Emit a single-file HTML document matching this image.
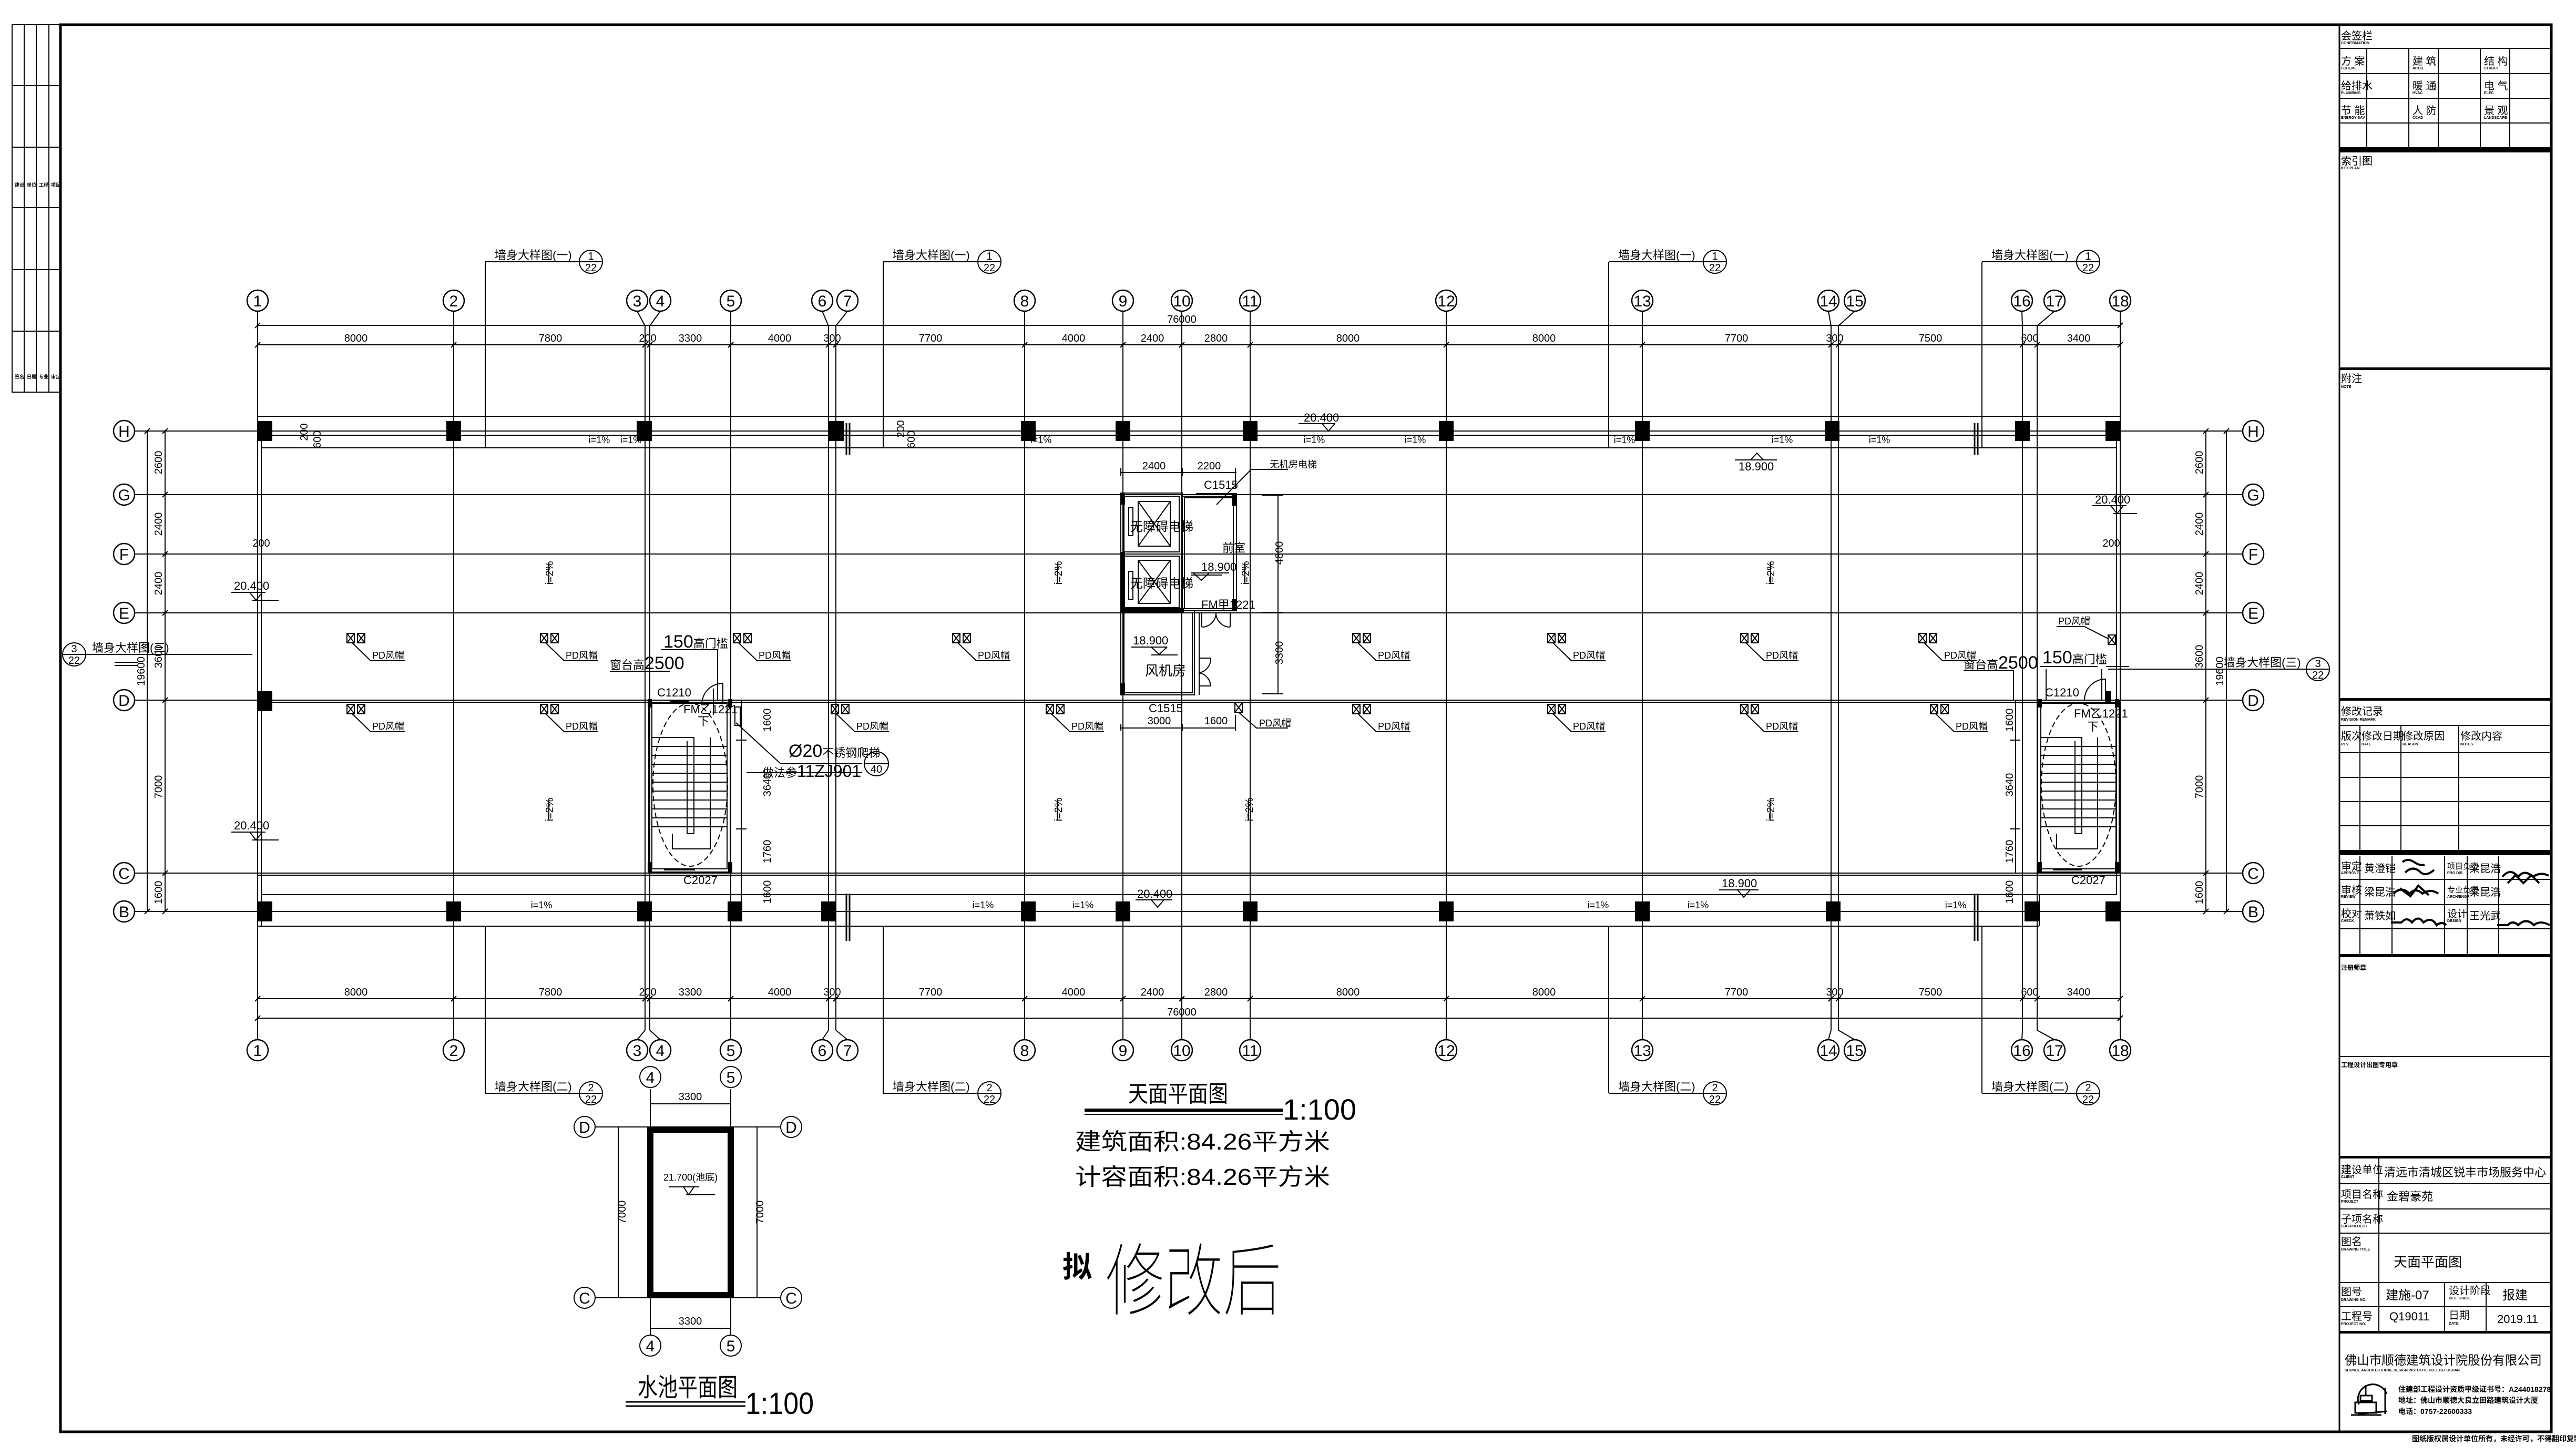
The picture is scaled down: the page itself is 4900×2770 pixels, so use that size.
<!DOCTYPE html>
<html><head><meta charset="utf-8"><style>
html,body{margin:0;padding:0;background:#fff;}
svg{display:block;}
text{font-family:"Liberation Sans","Noto Sans CJK SC",sans-serif;fill:#000;}
.s{font-family:"Liberation Sans Narrow","Liberation Sans","Noto Sans CJK SC",sans-serif;}
</style></head><body>
<svg width="4900" height="2770" viewBox="0 0 4900 2770" xmlns="http://www.w3.org/2000/svg">
<rect width="4900" height="2770" fill="#fff"/>
<!-- left strip -->
<g stroke="#000" stroke-width="2" fill="none">
<rect x="23" y="47" width="92" height="699"/>
<line x1="46" y1="47" x2="46" y2="746"/><line x1="69" y1="47" x2="69" y2="746"/><line x1="93" y1="47" x2="93" y2="746"/>
<line x1="23" y1="163" x2="115" y2="163"/><line x1="23" y1="280" x2="115" y2="280"/><line x1="23" y1="395" x2="115" y2="395"/><line x1="23" y1="513" x2="115" y2="513"/><line x1="23" y1="630" x2="115" y2="630"/>
</g>
<g font-size="9" font-weight="bold">
<text x="28" y="355">建设</text><text x="51" y="355">单位</text><text x="74" y="355">工程</text><text x="97" y="355">项目</text>
<text x="28" y="720">签名</text><text x="51" y="720">日期</text><text x="74" y="720">专业</text><text x="97" y="720">审定</text>
</g>
<!-- frame -->
<rect x="115" y="47" width="4738" height="2677" fill="none" stroke="#000" stroke-width="5"/>
<line x1="4450" y1="47" x2="4450" y2="2724" stroke="#000" stroke-width="3"/>

<!-- ===== PLAN ===== -->
<g stroke="#000" stroke-width="2" fill="none">
<!-- axis vertical lines -->
<path d="M490 592V1978 M863 592V1978 M1227 620V1960 M1236 620V1960 M1390 592V1978 M1576 620V1960 M1590 620V1960 M1949 592V1978 M2136 592V1978 M2248 592V1978 M2378 592V1978 M2751 592V1978 M3124 592V1978 M3483 620V1960 M3497 620V1960 M3847 620V1960 M3875 620V1960 M4033 592V1978"/>
<path d="M1212 592L1227 620 M1256 592L1236 620 M1564 592L1576 620 M1612 592L1590 620 M3478 592L3483 620 M3528 592L3497 620 M3846 592L3847 620 M3908 592L3875 620"/>
<path d="M1212 1978L1227 1960 M1256 1978L1236 1960 M1564 1978L1576 1960 M1612 1978L1590 1960 M3478 1978L3483 1960 M3528 1978L3497 1960 M3846 1978L3847 1960 M3908 1978L3875 1960"/>
<!-- row lines -->
<path d="M256 820H4266 M256 941H4266 M256 1054H4266 M256 1166H4266 M256 1332H4266 M256 1661H4266 M256 1734H4266"/>
<!-- parapets -->
<path d="M490 792H4033 M490 828H4033 M497 852H4026 M490 1336H4033 M490 1665H4033 M497 1702H4026 M490 1762H3879"/>
<path d="M497 828V1762 M4026 828V1702 M3879 1702V1762"/>
<path d="M1610 805V865 M1616 805V865 M3756 805V865 M3762 805V865 M1610 1700V1790 M1616 1700V1790 M3756 1700V1790 M3762 1700V1790" stroke-width="3"/>
<!-- top dims -->
<path d="M490 619H4033 M490 656H4033"/>
<path d="M485 624l10-10 M485 661l10-10 M858 661l10-10 M1222 661l10-10 M1231 661l10-10 M1385 661l10-10 M1571 661l10-10 M1585 661l10-10 M1944 661l10-10 M2131 661l10-10 M2243 661l10-10 M2373 661l10-10 M2746 661l10-10 M3119 661l10-10 M3478 661l10-10 M3492 661l10-10 M3842 661l10-10 M3870 661l10-10 M4028 661l10-10 M4028 624l10-10"/>
<!-- bottom dims -->
<path d="M490 1900H4033 M490 1937H4033"/>
<path d="M485 1905l10-10 M858 1905l10-10 M1222 1905l10-10 M1231 1905l10-10 M1385 1905l10-10 M1571 1905l10-10 M1585 1905l10-10 M1944 1905l10-10 M2131 1905l10-10 M2243 1905l10-10 M2373 1905l10-10 M2746 1905l10-10 M3119 1905l10-10 M3478 1905l10-10 M3492 1905l10-10 M3842 1905l10-10 M3870 1905l10-10 M4028 1905l10-10 M485 1942l10-10 M4028 1942l10-10"/>
<!-- left / right vertical dims -->
<path d="M314 820V1734 M280 820V1734 M4196 820V1734 M4235 820V1734"/>
<path d="M309 825l10-10 M309 946l10-10 M309 1059l10-10 M309 1171l10-10 M309 1337l10-10 M309 1666l10-10 M309 1739l10-10 M275 825l10-10 M275 1739l10-10 M4191 825l10-10 M4191 946l10-10 M4191 1059l10-10 M4191 1171l10-10 M4191 1337l10-10 M4191 1666l10-10 M4191 1739l10-10 M4230 825l10-10 M4230 1739l10-10"/>
<!-- axis circles -->
<g stroke-width="2.5">
<circle cx="490" cy="572" r="20"/><circle cx="863" cy="572" r="20"/><circle cx="1212" cy="572" r="20"/><circle cx="1256" cy="572" r="20"/><circle cx="1390" cy="572" r="20"/><circle cx="1564" cy="572" r="20"/><circle cx="1612" cy="572" r="20"/><circle cx="1949" cy="572" r="20"/><circle cx="2136" cy="572" r="20"/><circle cx="2248" cy="572" r="20"/><circle cx="2378" cy="572" r="20"/><circle cx="2751" cy="572" r="20"/><circle cx="3124" cy="572" r="20"/><circle cx="3478" cy="572" r="20"/><circle cx="3528" cy="572" r="20"/><circle cx="3846" cy="572" r="20"/><circle cx="3908" cy="572" r="20"/><circle cx="4033" cy="572" r="20"/>
<circle cx="490" cy="1998" r="20"/><circle cx="863" cy="1998" r="20"/><circle cx="1212" cy="1998" r="20"/><circle cx="1256" cy="1998" r="20"/><circle cx="1390" cy="1998" r="20"/><circle cx="1564" cy="1998" r="20"/><circle cx="1612" cy="1998" r="20"/><circle cx="1949" cy="1998" r="20"/><circle cx="2136" cy="1998" r="20"/><circle cx="2248" cy="1998" r="20"/><circle cx="2378" cy="1998" r="20"/><circle cx="2751" cy="1998" r="20"/><circle cx="3124" cy="1998" r="20"/><circle cx="3478" cy="1998" r="20"/><circle cx="3528" cy="1998" r="20"/><circle cx="3846" cy="1998" r="20"/><circle cx="3908" cy="1998" r="20"/><circle cx="4033" cy="1998" r="20"/>
<circle cx="236" cy="820" r="20"/><circle cx="236" cy="941" r="20"/><circle cx="236" cy="1054" r="20"/><circle cx="236" cy="1166" r="20"/><circle cx="236" cy="1332" r="20"/><circle cx="236" cy="1661" r="20"/><circle cx="236" cy="1734" r="20"/>
<circle cx="4286" cy="820" r="20"/><circle cx="4286" cy="941" r="20"/><circle cx="4286" cy="1054" r="20"/><circle cx="4286" cy="1166" r="20"/><circle cx="4286" cy="1332" r="20"/><circle cx="4286" cy="1661" r="20"/><circle cx="4286" cy="1734" r="20"/>
</g>
<!-- 墙身大样图 leaders -->
<path d="M923 498H1102 M923 498V852 M1680 498H1860 M1680 498V852 M3060 498H3240 M3060 498V852 M3770 498H3950 M3770 498V852"/>
<path d="M923 2080H1102 M923 2080V1762 M1680 2080H1860 M1680 2080V1762 M3060 2080H3240 M3060 2080V1762 M3770 2080H3950 M3770 2080V1762"/>
<circle cx="1124" cy="498" r="22"/><circle cx="1882" cy="498" r="22"/><circle cx="3262" cy="498" r="22"/><circle cx="3972" cy="498" r="22"/>
<circle cx="1124" cy="2080" r="22"/><circle cx="1882" cy="2080" r="22"/><circle cx="3262" cy="2080" r="22"/><circle cx="3972" cy="2080" r="22"/>
<path d="M1102 498h44 M1860 498h44 M3240 498h44 M3950 498h44 M1102 2080h44 M1860 2080h44 M3240 2080h44 M3950 2080h44"/>
<circle cx="141" cy="1245" r="22"/><path d="M119 1245h44 M163 1245H330 M220 1245H480"/>
<circle cx="4409" cy="1273" r="22"/><path d="M4387 1273h44 M4010 1273H4387"/>
<path d="M218 1260H262 M218 1266H262 M4006 1268H4050" stroke-width="2"/>
</g>
<!-- columns -->
<g fill="#000">
<rect x="490" y="801" width="28" height="38"/><rect x="849" y="801" width="28" height="38"/><rect x="1211" y="801" width="29" height="38"/><rect x="1577" y="801" width="28" height="38"/><rect x="1942" y="801" width="28" height="38"/><rect x="2122" y="801" width="28" height="38"/><rect x="2364" y="801" width="28" height="38"/><rect x="2737" y="801" width="28" height="38"/><rect x="3110" y="801" width="28" height="38"/><rect x="3471" y="801" width="28" height="38"/><rect x="3833" y="801" width="28" height="38"/><rect x="4005" y="801" width="28" height="38"/>
<rect x="490" y="1315" width="28" height="38"/><rect x="4005" y="1315" width="10" height="20"/>
<rect x="490" y="1715" width="28" height="38"/><rect x="849" y="1715" width="28" height="38"/><rect x="1212" y="1715" width="28" height="38"/><rect x="1384" y="1715" width="28" height="38"/><rect x="1562" y="1715" width="28" height="38"/><rect x="1942" y="1715" width="28" height="38"/><rect x="2122" y="1715" width="28" height="38"/><rect x="2364" y="1715" width="28" height="38"/><rect x="2737" y="1715" width="28" height="38"/><rect x="3110" y="1715" width="28" height="38"/><rect x="3473" y="1715" width="28" height="38"/><rect x="3851" y="1715" width="28" height="38"/><rect x="4005" y="1715" width="28" height="38"/>
<rect x="1232" y="1330" width="8" height="16"/><rect x="1385" y="1330" width="8" height="16"/><rect x="1232" y="1640" width="8" height="20"/><rect x="1385" y="1640" width="8" height="20"/>
<rect x="3876" y="1330" width="8" height="16"/><rect x="4023" y="1330" width="8" height="16"/><rect x="3876" y="1640" width="8" height="20"/><rect x="4023" y="1640" width="8" height="20"/>
</g>
<!-- stairs -->
<g stroke="#000" stroke-width="2" fill="none">
<rect x="1234" y="1332" width="155" height="327"/><rect x="1240" y="1338" width="143" height="315"/>
<ellipse cx="1313" cy="1493" rx="71" ry="155" stroke-dasharray="10,6"/>
<path d="M1241 1403H1320V1586 M1307 1410V1586H1320 M1279 1586V1615H1351V1403"/>
<path d="M1241 1420H1384 M1241 1437H1384 M1241 1454H1384 M1241 1471H1384 M1241 1488H1384 M1241 1505H1384 M1241 1522H1384 M1241 1539H1384 M1241 1556H1384 M1241 1573H1384"/>
<path d="M1263 1660H1322 M1263 1655H1322 M1275 1334H1310 M1357 1310V1360"/>
<path d="M1335 1340 A40 40 0 0 1 1375 1300 V1340"/><rect x="1398" y="1345" width="10" height="35"/>
<path d="M1400 1375 L1485 1453 H1640"/>
<circle cx="1667" cy="1453" r="23"/><path d="M1644 1453h46"/>
<path d="M1410 1332V1734 M1400 1332h20 M1400 1408h20 M1400 1577h20 M1400 1661h20 M1400 1734h20"/>
<rect x="3876" y="1332" width="155" height="327"/><rect x="3882" y="1338" width="143" height="315"/>
<ellipse cx="3954" cy="1493" rx="71" ry="155" stroke-dasharray="10,6"/>
<path d="M3882 1403H3960V1586 M3947 1410V1586H3960 M3912 1586V1615H3990V1403"/>
<path d="M3882 1420H4025 M3882 1437H4025 M3882 1454H4025 M3882 1471H4025 M3882 1488H4025 M3882 1505H4025 M3882 1522H4025 M3882 1539H4025 M3882 1556H4025 M3882 1573H4025"/>
<path d="M3905 1660H3960 M3905 1655H3960"/>
<path d="M3965 1332 A40 40 0 0 1 4005 1292 V1332 M3892 1273V1332 M3998 1273V1332"/>
<path d="M3834 1332V1661 M3823 1332h20 M3823 1408h20 M3823 1577h20 M3823 1661h20"/>
<!-- core -->
<rect x="2132" y="938" width="117" height="224"/>
<rect x="2138" y="944" width="105" height="106"/><rect x="2138" y="1058" width="105" height="98"/>
<rect x="2165" y="954" width="61" height="85"/><path d="M2165 954L2226 1039 M2226 954L2165 1039"/>
<rect x="2165" y="1066" width="61" height="82"/><path d="M2165 1066L2226 1148 M2226 1066L2165 1148"/>
<rect x="2147" y="966" width="8" height="53"/><rect x="2147" y="1087" width="8" height="53"/>
<rect x="2249" y="944" width="103" height="218"/><rect x="2253" y="947" width="93" height="211"/>
<rect x="2132" y="1162" width="140" height="160"/><rect x="2138" y="1166" width="130" height="152"/>
<path d="M2272 1162V1322 M2281 1166V1322 M2176 1322H2240 M2176 1318H2240"/>
<path d="M2286 1166V1193 M2340 1166V1193 M2286 1193 A27 27 0 0 0 2313 1166 M2340 1193 A27 27 0 0 1 2313 1166"/>
<path d="M2281 1252H2303 A27 27 0 0 1 2281 1280 M2281 1280 A27 27 0 0 1 2303 1305 H2281"/>
<path d="M2132 899H2352 M2132 890V905 M2249 890V905 M2350 890V930 M2350 1385V1360 M2132 1385H2350 M2249 1378V1390 M2350 1378V1390 M2132 1378V1390"/>
<path d="M2431 942V1320 M2400 942h40 M2400 1165h40 M2400 1320h40"/>
<path d="M2314 960 L2380 893 H2450"/>
</g>
<g fill="#000"><rect x="2132" y="938" width="8" height="22"/><rect x="2132" y="1050" width="8" height="112"/><rect x="2132" y="1156" width="120" height="10"/><rect x="2132" y="1300" width="8" height="22"/><rect x="2344" y="938" width="9" height="25"/><rect x="2344" y="1140" width="9" height="22"/><rect x="2275" y="938" width="70" height="4"/></g>

<!-- PD symbols -->
<g stroke="#000" stroke-width="2" fill="none">
<defs><g id="pd"><rect x="0" y="0" width="14" height="18"/><path d="M0 0L14 18M14 0L0 18"/><rect x="20" y="0" width="14" height="18"/><path d="M20 0L34 18M34 0L20 18"/><path d="M10 18L45 52H110"/></g></defs>
<use href="#pd" x="660" y="1205"/><use href="#pd" x="1028" y="1205"/><use href="#pd" x="1395" y="1205"/><use href="#pd" x="1812" y="1205"/><use href="#pd" x="2573" y="1205"/><use href="#pd" x="2944" y="1205"/><use href="#pd" x="3311" y="1205"/><use href="#pd" x="3650" y="1205"/>
<use href="#pd" x="660" y="1340"/><use href="#pd" x="1028" y="1340"/><use href="#pd" x="1581" y="1340"/><use href="#pd" x="1990" y="1340"/><use href="#pd" x="2573" y="1340"/><use href="#pd" x="2944" y="1340"/><use href="#pd" x="3311" y="1340"/><use href="#pd" x="3672" y="1340"/>
<rect x="2349" y="1337" width="14" height="18"/><path d="M2349 1337l14 18M2363 1337l-14 18M2356 1355L2390 1385H2450"/>
<rect x="4010" y="1208" width="14" height="18"/><path d="M4010 1208l14 18M4024 1208l-14 18M4010 1215L3965 1192H3912"/>
<!-- elevation marks -->
<path d="M440 1127H505 M475 1127L487 1142L499 1127 M480 1142H530"/>
<path d="M2470 806H2540 M2515 806L2527 820L2539 806"/>
<path d="M3980 962H4045 M4015 962L4027 977L4039 962 M4020 977H4065"/>
<path d="M3330 875L3342 862L3354 875 M3300 875H3380"/>
<path d="M3270 1693H3345 M3305 1693L3317 1707L3329 1693"/>
<path d="M2160 1712H2230 M2190 1712L2202 1726L2214 1712"/>
<path d="M440 1583H505 M475 1583L487 1598L499 1583 M480 1598H530"/>
<path d="M2265 1090H2338 M2270 1090L2285 1104L2300 1090 M2265 1094H2325" />
<path d="M2152 1231H2220 M2190 1231L2205 1245L2220 1231 M2190 1246H2240"/>
<!-- slope arrows -->
<path d="M1044 1070V1110 M2012 1070V1110 M3368 1070V1110 M2368 1070V1110 M1044 1520V1560 M2012 1520V1560 M3367 1520V1560 M2375 1520V1560"/>
<!-- label underlines -->
<path d="M1160 1277H1275 M1257 1236H1365V1332 M3735 1276H3830V1332 M3880 1268H3990 M1420 1470H1640"/>
<!-- pool -->
<rect x="1237" y="2149" width="153" height="315" stroke-width="12"/>
<path d="M1132 2144H1237 M1390 2144H1485 M1132 2469H1237 M1390 2469H1485 M1237 2072V2149 M1390 2072V2149 M1237 2469V2540 M1390 2469V2540 M1237 2100H1390 M1237 2527H1390 M1176 2144V2469 M1440 2144V2469"/>
<circle cx="1237" cy="2049" r="20"/><circle cx="1390" cy="2049" r="20"/><circle cx="1237" cy="2560" r="20"/><circle cx="1390" cy="2560" r="20"/>
<circle cx="1112" cy="2144" r="20"/><circle cx="1505" cy="2144" r="20"/><circle cx="1112" cy="2469" r="20"/><circle cx="1505" cy="2469" r="20"/>
<path d="M1272 2258H1330 M1300 2258L1310 2273L1320 2258 M1305 2273H1360"/>
<path d="M1190 2667H1418 M1190 2675H1418" stroke-width="3"/>
<path d="M2063 2112H2440" stroke-width="6"/><path d="M2063 2120H2440"/>
</g>

<!-- plan text -->
<g class="s" font-size="30" text-anchor="middle">
<text x="490" y="583">1</text><text x="863" y="583">2</text><text x="1212" y="583">3</text><text x="1256" y="583">4</text><text x="1390" y="583">5</text><text x="1564" y="583">6</text><text x="1612" y="583">7</text><text x="1949" y="583">8</text><text x="2136" y="583">9</text><text x="2248" y="583">10</text><text x="2378" y="583">11</text><text x="2751" y="583">12</text><text x="3124" y="583">13</text><text x="3478" y="583">14</text><text x="3528" y="583">15</text><text x="3846" y="583">16</text><text x="3908" y="583">17</text><text x="4033" y="583">18</text>
<text x="490" y="2009">1</text><text x="863" y="2009">2</text><text x="1212" y="2009">3</text><text x="1256" y="2009">4</text><text x="1390" y="2009">5</text><text x="1564" y="2009">6</text><text x="1612" y="2009">7</text><text x="1949" y="2009">8</text><text x="2136" y="2009">9</text><text x="2248" y="2009">10</text><text x="2378" y="2009">11</text><text x="2751" y="2009">12</text><text x="3124" y="2009">13</text><text x="3478" y="2009">14</text><text x="3528" y="2009">15</text><text x="3846" y="2009">16</text><text x="3908" y="2009">17</text><text x="4033" y="2009">18</text>
<text x="236" y="831">H</text><text x="236" y="952">G</text><text x="236" y="1065">F</text><text x="236" y="1177">E</text><text x="236" y="1343">D</text><text x="236" y="1672">C</text><text x="236" y="1745">B</text>
<text x="4286" y="831">H</text><text x="4286" y="952">G</text><text x="4286" y="1065">F</text><text x="4286" y="1177">E</text><text x="4286" y="1343">D</text><text x="4286" y="1672">C</text><text x="4286" y="1745">B</text>
<text x="1237" y="2060">4</text><text x="1390" y="2060">5</text><text x="1237" y="2571">4</text><text x="1390" y="2571">5</text>
<text x="1112" y="2155">D</text><text x="1505" y="2155">D</text><text x="1112" y="2480">C</text><text x="1505" y="2480">C</text>
</g>
<g class="s" font-size="20" text-anchor="middle">
<text x="2248" y="614">76000</text><text x="2248" y="1932">76000</text>
<g id="dt"><text x="677" y="650">8000</text><text x="1047" y="650">7800</text><text x="1232" y="650">200</text><text x="1313" y="650">3300</text><text x="1483" y="650">4000</text><text x="1583" y="650">300</text><text x="1770" y="650">7700</text><text x="2042" y="650">4000</text><text x="2192" y="650">2400</text><text x="2313" y="650">2800</text><text x="2564" y="650">8000</text><text x="2937" y="650">8000</text><text x="3303" y="650">7700</text><text x="3490" y="650">300</text><text x="3672" y="650">7500</text><text x="3861" y="650">600</text><text x="3954" y="650">3400</text></g>
<text x="677" y="1894">8000</text><text x="1047" y="1894">7800</text><text x="1232" y="1894">200</text><text x="1313" y="1894">3300</text><text x="1483" y="1894">4000</text><text x="1583" y="1894">300</text><text x="1770" y="1894">7700</text><text x="2042" y="1894">4000</text><text x="2192" y="1894">2400</text><text x="2313" y="1894">2800</text><text x="2564" y="1894">8000</text><text x="2937" y="1894">8000</text><text x="3303" y="1894">7700</text><text x="3490" y="1894">300</text><text x="3672" y="1894">7500</text><text x="3861" y="1894">600</text><text x="3954" y="1894">3400</text>
<g transform="rotate(-90)">
<text x="-880" y="308">2600</text><text x="-997" y="308">2400</text><text x="-1110" y="308">2400</text><text x="-1249" y="308">3600</text><text x="-1497" y="308">7000</text><text x="-1698" y="308">1600</text><text x="-1277" y="275">19600</text>
<text x="-880" y="4190">2600</text><text x="-997" y="4190">2400</text><text x="-1110" y="4190">2400</text><text x="-1249" y="4190">3600</text><text x="-1497" y="4190">7000</text><text x="-1698" y="4190">1600</text><text x="-1277" y="4229">19600</text>
<text x="-1370" y="1466">1600</text><text x="-1493" y="1466">3640</text><text x="-1620" y="1466">1760</text><text x="-1697" y="1466">1600</text>
<text x="-1370" y="3829">1600</text><text x="-1493" y="3829">3640</text><text x="-1620" y="3829">1760</text><text x="-1697" y="3829">1600</text>
<text x="-1052" y="2440">4800</text><text x="-1242" y="2440">3300</text>
<text x="-2306" y="1190">7000</text><text x="-2306" y="1452">7000</text>
<text x="-1090" y="1052">i=2%</text><text x="-1090" y="2020">i=2%</text><text x="-1090" y="2376">i=2%</text><text x="-1090" y="3375">i=2%</text>
<text x="-1540" y="1052">i=2%</text><text x="-1540" y="2020">i=2%</text><text x="-1540" y="2383">i=2%</text><text x="-1540" y="3375">i=2%</text>
<text x="-822" y="585">200</text><text x="-836" y="610">600</text><text x="-816" y="1720">200</text><text x="-836" y="1740">600</text>
</g>
<text x="2195" y="893">2400</text><text x="2300" y="893">2200</text><text x="2205" y="1378">3000</text><text x="2313" y="1378">1600</text>
<text x="1313" y="2093">3300</text><text x="1313" y="2520">3300</text>
<text x="497" y="1040">200</text><text x="4016" y="1040">200</text>
</g>
<g class="s" font-size="18" text-anchor="middle">
<text x="1140" y="843">i=1%</text><text x="1200" y="843">i=1%</text><text x="1980" y="843">i=1%</text><text x="2500" y="843">i=1%</text><text x="3390" y="843">i=1%</text><text x="3575" y="843">i=1%</text><text x="2692" y="843">i=1%</text><text x="3090" y="843">i=1%</text>
<text x="1030" y="1728">i=1%</text><text x="1870" y="1728">i=1%</text><text x="2060" y="1728">i=1%</text><text x="3040" y="1728">i=1%</text><text x="3230" y="1728">i=1%</text><text x="3720" y="1728">i=1%</text>
</g>
<g class="s" font-size="22">
<text x="445" y="1122">20.400</text><text x="2480" y="802">20.400</text><text x="3985" y="958">20.400</text><text x="3307" y="895">18.900</text><text x="3275" y="1688">18.900</text><text x="2163" y="1708">20.400</text><text x="445" y="1578">20.400</text>
<text x="2285" y="1086">18.900</text><text x="2155" y="1226">18.900</text>
<text x="1250" y="1325">C1210</text><text x="1300" y="1357">FM乙1221</text><text x="1327" y="1380">下</text><text x="1300" y="1682">C2027</text>
<text x="3890" y="1325">C1210</text><text x="3945" y="1365">FM乙1221</text><text x="3970" y="1390">下</text><text x="3940" y="1682">C2027</text>
<text x="2290" y="930">C1515</text><text x="2185" y="1355">C1515</text><text x="2285" y="1158">FM甲1221</text>
<text x="2415" y="890" font-size="18">无机房电梯</text>
<text x="1262" y="2246" font-size="18">21.700(池底)</text>
</g>
<g class="s" font-size="18">
<text x="708" y="1253">PD风帽</text><text x="1076" y="1253">PD风帽</text><text x="1443" y="1253">PD风帽</text><text x="1860" y="1253">PD风帽</text><text x="2621" y="1253">PD风帽</text><text x="2992" y="1253">PD风帽</text><text x="3359" y="1253">PD风帽</text><text x="3698" y="1253">PD风帽</text><text x="3915" y="1188">PD风帽</text>
<text x="708" y="1388">PD风帽</text><text x="1076" y="1388">PD风帽</text><text x="1629" y="1388">PD风帽</text><text x="2038" y="1388">PD风帽</text><text x="2621" y="1388">PD风帽</text><text x="2992" y="1388">PD风帽</text><text x="3359" y="1388">PD风帽</text><text x="3720" y="1388">PD风帽</text><text x="2395" y="1382">PD风帽</text>
</g>
<g font-size="22">
<text x="2325" y="1050">前室</text><text x="2150" y="1010" font-size="24">无障碍电梯</text><text x="2150" y="1118" font-size="24">无障碍电梯</text><text x="2178" y="1285" font-size="26">风机房</text>
<text x="941" y="493">墙身大样图(一)</text><text x="1698" y="493">墙身大样图(一)</text><text x="3078" y="493">墙身大样图(一)</text><text x="3788" y="493">墙身大样图(一)</text>
<text x="941" y="2075">墙身大样图(二)</text><text x="1698" y="2075">墙身大样图(二)</text><text x="3078" y="2075">墙身大样图(二)</text><text x="3788" y="2075">墙身大样图(二)</text>
<text x="175" y="1240">墙身大样图(三)</text><text x="4230" y="1268">墙身大样图(三)</text>
<text x="1160" y="1273">窗台高<tspan font-size="34">2500</tspan></text><text x="3735" y="1272">窗台高<tspan font-size="34">2500</tspan></text>
<text x="1262" y="1232"><tspan font-size="34">150</tspan>高门槛</text><text x="3885" y="1262"><tspan font-size="34">150</tspan>高门槛</text>
<text x="1500" y="1440"><tspan font-size="34">Ø20</tspan>不锈钢爬梯</text><text x="1450" y="1478">做法参<tspan font-size="32">11ZJ901</tspan></text>
</g>
<g font-size="20" text-anchor="middle">
<text x="1124" y="494">1</text><text x="1124" y="516">22</text><text x="1882" y="494">1</text><text x="1882" y="516">22</text><text x="3262" y="494">1</text><text x="3262" y="516">22</text><text x="3972" y="494">1</text><text x="3972" y="516">22</text>
<text x="1124" y="2076">2</text><text x="1124" y="2098">22</text><text x="1882" y="2076">2</text><text x="1882" y="2098">22</text><text x="3262" y="2076">2</text><text x="3262" y="2098">22</text><text x="3972" y="2076">2</text><text x="3972" y="2098">22</text>
<text x="141" y="1241">3</text><text x="141" y="1263">22</text><text x="4409" y="1269">3</text><text x="4409" y="1291">22</text>
<text x="1667" y="1470">40</text>
</g>
<!-- titles -->
<g>
<text x="2146" y="2096" font-size="44" textLength="190" lengthAdjust="spacingAndGlyphs">天面平面图</text>
<text x="2440" y="2130" font-size="56" textLength="140" lengthAdjust="spacingAndGlyphs">1:100</text>
<text x="2045" y="2187" font-size="44" textLength="485" lengthAdjust="spacingAndGlyphs">建筑面积:84.26平方米</text>
<text x="2045" y="2254" font-size="44" textLength="485" lengthAdjust="spacingAndGlyphs">计容面积:84.26平方米</text>
<text x="2021" y="2430" font-size="56" font-weight="bold">拟</text>
<text x="2103" y="2490" font-size="150" textLength="335" lengthAdjust="spacingAndGlyphs" style="font-weight:100">修改后</text>
<text x="1213" y="2656" font-size="48" textLength="190" lengthAdjust="spacingAndGlyphs">水池平面图</text>
<text x="1418" y="2690" font-size="58" textLength="130" lengthAdjust="spacingAndGlyphs">1:100</text>
</g>

<!-- ===== TITLE BLOCK ===== -->
<g stroke="#000" stroke-width="2" fill="none">
<path d="M4450 92H4853 M4450 140H4853 M4450 187H4853 M4450 234H4853"/>
<path d="M4502 92V280 M4582 92V280 M4638 92V280 M4718 92V280 M4774 92V280"/>
<path d="M4450 1380H4853 M4450 1432H4853 M4450 1479H4853 M4450 1525H4853 M4450 1571H4853"/>
<path d="M4489 1380V1618 M4567 1380V1618 M4677 1380V1618"/>
<path d="M4450 1673H4853 M4450 1721H4853 M4450 1767H4853"/>
<path d="M4489 1629V1815 M4550 1629V1815 M4650 1629V1815 M4693 1629V1815 M4753 1629V1815"/>
<path d="M4450 2010H4853"/>
<path d="M4450 2252H4853 M4450 2300H4853 M4450 2346H4853 M4450 2440H4853 M4450 2486H4853 M4525 2204V2534 M4650 2440V2534 M4729 2440V2534"/>
</g>
<g fill="#000">
<rect x="4450" y="280" width="403" height="10"/><rect x="4450" y="699" width="403" height="5"/><rect x="4450" y="1328" width="403" height="5"/><rect x="4450" y="1617" width="403" height="10"/><rect x="4450" y="1815" width="403" height="6"/><rect x="4450" y="2199" width="403" height="5"/><rect x="4450" y="2532" width="403" height="5"/>
</g>
<g font-size="20">
<text x="4453" y="75">会签栏</text>
<text x="4453" y="123">方 案</text><text x="4589" y="123">建 筑</text><text x="4725" y="123">结 构</text>
<text x="4453" y="170">给排水</text><text x="4589" y="170">暖 通</text><text x="4725" y="170">电 气</text>
<text x="4453" y="217">节 能</text><text x="4589" y="217">人 防</text><text x="4725" y="217">景 观</text>
<text x="4453" y="313">索引图</text><text x="4453" y="727">附注</text><text x="4453" y="1360">修改记录</text>
<text x="4453" y="1407">版次</text><text x="4492" y="1407">修改日期</text><text x="4570" y="1407">修改原因</text><text x="4680" y="1407">修改内容</text>
<text x="4453" y="1655">审定</text><text x="4453" y="1700">审核</text><text x="4453" y="1745">校对</text>
<text x="4497" y="1659">黄澄铠</text><text x="4497" y="1704">梁昆浩</text><text x="4497" y="1749">萧铁如</text>
<text x="4697" y="1659">梁昆浩</text><text x="4697" y="1704">梁昆浩</text><text x="4697" y="1749">王光武</text>
<text x="4453" y="2232">建设单位</text><text x="4453" y="2279">项目名称</text><text x="4453" y="2326">子项名称</text><text x="4453" y="2369">图名</text><text x="4453" y="2464">图号</text><text x="4453" y="2511">工程号</text>
<text x="4658" y="2462">设计阶段</text><text x="4658" y="2509">日期</text>
</g>
<g font-size="15"><text x="4655" y="1653">项目负责</text><text x="4655" y="1698">专业负责</text><text x="4655" y="1745" font-size="19">设计</text></g>
<g font-size="7" font-weight="bold">
<text x="4453" y="84">CONFIRMATION</text><text x="4453" y="132">SCHEME</text><text x="4589" y="132">ARCH</text><text x="4725" y="132">STRUCT</text>
<text x="4453" y="179">PLUMBING</text><text x="4589" y="179">HVAC</text><text x="4725" y="179">ELEC</text>
<text x="4453" y="226">ENERGY-SAV</text><text x="4589" y="226">CCAD</text><text x="4725" y="226">LANDSCAPE</text>
<text x="4453" y="322">KEY PLAN</text><text x="4453" y="738">NOTE</text><text x="4453" y="1371">REVISION REMARK</text>
<text x="4453" y="1418">REV.</text><text x="4492" y="1418">DATE</text><text x="4570" y="1418">REASON</text><text x="4680" y="1418">NOTES</text>
<text x="4453" y="1663">APPROVE</text><text x="4453" y="1708">REVIEW</text><text x="4453" y="1754">CHECK</text><text x="4655" y="1663">PRO DIR</text><text x="4655" y="1708">ARCH/ENGR</text><text x="4655" y="1754">DESIGN</text>
<text x="4453" y="2241">CLIENT</text><text x="4453" y="2288">PROJECT</text><text x="4453" y="2335">SUB-PROJECT</text><text x="4453" y="2379">DRAWING TITLE</text><text x="4453" y="2475">DRAWING NO.</text><text x="4453" y="2521">PROJECT NO.</text><text x="4658" y="2472">DES. STAGE</text><text x="4658" y="2520">DATE</text>
<text x="4460" y="2609">SHUNDE ARCHITECTURAL DESIGN INSTITUTE CO.,LTD.FOSHAN</text>
</g>
<g font-size="12" font-weight="bold"><text x="4453" y="1845">注册师章</text><text x="4453" y="2030">工程设计出图专用章</text></g>
<g font-size="22">
<text x="4535" y="2238">清远市清城区锐丰市场服务中心</text>
<text x="4540" y="2284">金碧豪苑</text>
<text x="4553" y="2410" font-size="26">天面平面图</text>
<text x="4538" y="2472" font-size="24">建施-07</text><text x="4760" y="2472" font-size="24">报建</text>
<text x="4545" y="2512">Q19011</text><text x="4750" y="2517">2019.11</text>
<text x="4460" y="2596" font-size="24" textLength="375" lengthAdjust="spacingAndGlyphs">佛山市顺德建筑设计院股份有限公司</text>
</g>
<g font-size="14" font-weight="bold">
<text x="4562" y="2648">住建部工程设计资质甲级证书号：A244018278</text>
<text x="4562" y="2669">地址：佛山市顺德大良立田路建筑设计大厦</text>
<text x="4562" y="2690">电话：0757-22600333</text>
<text x="4588" y="2742">图纸版权属设计单位所有，未经许可，不得翻印复制</text>
</g>
<!-- logo -->
<g stroke="#000" stroke-width="3" fill="none">
<path d="M4487 2672 A28 28 0 0 1 4540 2652 M4472 2692H4530 M4500 2635V2655 M4490 2655H4512V2665H4490Z M4480 2668H4520V2688H4480Z M4537 2640V2690 M4485 2690L4540 2685"/>
</g>
<!-- signatures -->
<g stroke="#000" stroke-width="4" fill="none">
<path d="M4570 1640 q10 -8 22 0 t20 5 M4575 1660 q15 -15 30 0 q10 8 25 -5"/>
<path d="M4553 1700 q15 -15 30 0 q12 -12 25 0 q15 -10 30 0 M4565 1690 l20 15 l15 -20 l20 18"/>
<path d="M4548 1755 h20 q10 -12 20 0 q12 -15 22 0 q15 -12 25 5 q10 -8 18 0"/>
<path d="M4760 1668 q15 -18 30 0 q12 -15 28 0 q15 -10 30 -2 M4770 1680 l15 -15 l15 15 l15 -15 l15 15"/>
<path d="M4750 1760 h20 q10 -10 20 0 q15 -15 30 0 q12 -10 30 0"/>
</g>
</svg>
</body></html>
